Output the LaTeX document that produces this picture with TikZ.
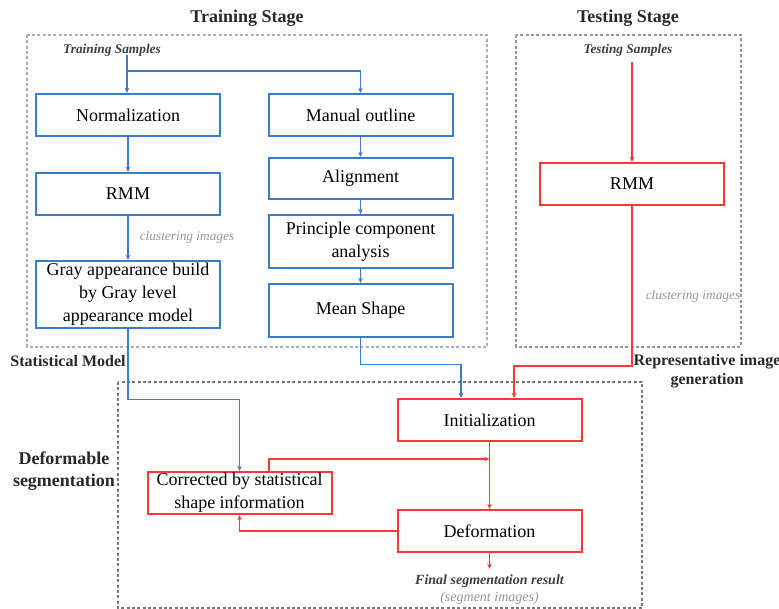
\documentclass[tikz,border=0pt]{standalone}
\usepackage{fontspec}
\setmainfont{Liberation Serif}
\usetikzlibrary{arrows.meta,calc}
\definecolor{bl}{RGB}{58,125,205}
\definecolor{rd}{RGB}{255,55,55}
\definecolor{dashbl}{RGB}{165,172,200}
\definecolor{dashgr}{RGB}{150,150,150}
\definecolor{dashdk}{RGB}{120,120,120}
\definecolor{lbl}{RGB}{150,150,150}
\definecolor{dk}{RGB}{40,40,40}
\tikzset{
  bbox/.style={draw=bl, line width=1.5pt, fill=white, minimum width=138pt, align=center,
    font=\fontsize{13.5}{17.2}\selectfont, inner sep=1pt},
  rbox/.style={bbox, draw=rd},
  barrow/.style={draw=bl, line width=1pt, -{Stealth[length=4pt,width=3.5pt]}},
  rarrow/.style={draw=rd, line width=1pt, -{Stealth[length=4pt,width=3.5pt]}},
  frame/.style={line width=0.8pt, dash pattern=on 2.2pt off 1.8pt},
  title/.style={font=\fontsize{13.5}{16}\selectfont\bfseries, text=dk},
  side/.style={font=\fontsize{12}{14}\selectfont\bfseries, text=dk, align=center},
  samp/.style={font=\fontsize{10}{12}\selectfont\bfseries\itshape, text=dk!90!white},
  clus/.style={font=\fontsize{10}{12}\selectfont\itshape, text=lbl},
}
\begin{document}
\begin{tikzpicture}[x=0.75pt,y=-0.75pt]
\useasboundingbox (0,0) rectangle (779,609);
% frames
\draw[frame, draw=dashbl] (27,35) rectangle (487,347);
\draw[frame, draw=dashgr] (516,35) rectangle (741,347);
\draw[frame, draw=dashdk] (118,382) rectangle (642,608);
% titles
\node[title] (ttrain) at (247,18) {Training Stage};
\node[title] (ttest) at (628,18) {Testing Stage};
\node[samp] (tsamp) at (112,50) {Training Samples};
\node[samp] (esamp) at (628,50) {Testing Samples};
% training boxes
\node[bbox, minimum height=31.5pt] (norm) at (128,115) {Normalization};
\node[bbox, minimum height=31.5pt] (rmml) at (128,194) {RMM};
\node[bbox, minimum height=50pt] (gray) at (128,294.5) {Gray appearance build\\by Gray level\\appearance model};
\node[bbox, minimum height=31.5pt] (manual) at (360.5,115) {Manual outline};
\node[bbox, minimum height=30.75pt] (align) at (360.5,178.5) {Alignment};
\node[bbox, minimum height=39.75pt] (pca) at (360.5,241.5) {Principle component\\analysis};
\node[bbox, minimum height=39.75pt] (mean) at (360.5,310.5) {Mean Shape};
% testing box
\node[rbox, minimum height=31.5pt] (rmmr) at (632,184) {RMM};
% segmentation boxes
\node[rbox, minimum height=31.5pt] (init) at (489.5,420) {Initialization};
\node[rbox, minimum height=31.5pt] (defo) at (489.5,531) {Deformation};
\node[rbox, minimum height=31.5pt] (corr) at (239.5,493) {Corrected by statistical\\shape information};
% side labels
\node[side] (statm) at (68,361) {Statistical Model};
\node[side] (repr) at (707,371) {Representative image\\generation};
\node[side, font=\fontsize{13.5}{16.5}\selectfont\bfseries] (defseg) at (64,471) {Deformable\\segmentation};
\node[clus] (clus1) at (187,237) {clustering images};
\node[clus] (clus2) at (693,296) {clustering images};
\node[samp, font=\fontsize{10.5}{12}\selectfont\bfseries\itshape] (final) at (489.5,581) {Final segmentation result};
\node[clus, font=\fontsize{10.5}{12}\selectfont\itshape] (segimg) at (489.5,598) {(segment images)};
% training connectors
\coordinate (tsfoot) at (127,55);
\coordinate (tssplit) at (127,71);
\draw[barrow] (tsfoot) -- (tsfoot |- norm.north);
\draw[barrow] (tssplit) -| (manual.north);
\draw[barrow] (norm) -- (rmml);
\draw[barrow] (rmml) -- (gray);
\draw[barrow] (manual) -- (align);
\draw[barrow] (align) -- (pca);
\draw[barrow] (pca) -- (mean);
% to segmentation
\draw[barrow] (gray.south) -- ++(0,71) -| (corr.north);
\draw[barrow] (mean.south) -- ++(0,26.5) -| ($(init.north)+(-28.5,0)$);
% testing connectors
\coordinate (esfoot) at (632,62);
\draw[rarrow] (esfoot) -- (rmmr.north);
\draw[rarrow] (rmmr.south) -- ++(0,160) -| ($(init.north)+(24.5,0)$);
% segmentation loop
\coordinate (mid) at ($(init.south)+(0,17)$);
\draw[rarrow] (init) -- (defo);
\draw[rarrow] ($(corr.north)+(29.5,0)$) |- (mid);
\draw[rarrow] (defo.west) -| (corr.south);
\coordinate (fin) at ($(defo.south)+(0,16)$);
\draw[rarrow] (defo.south) -- (fin);
\end{tikzpicture}
\end{document}
